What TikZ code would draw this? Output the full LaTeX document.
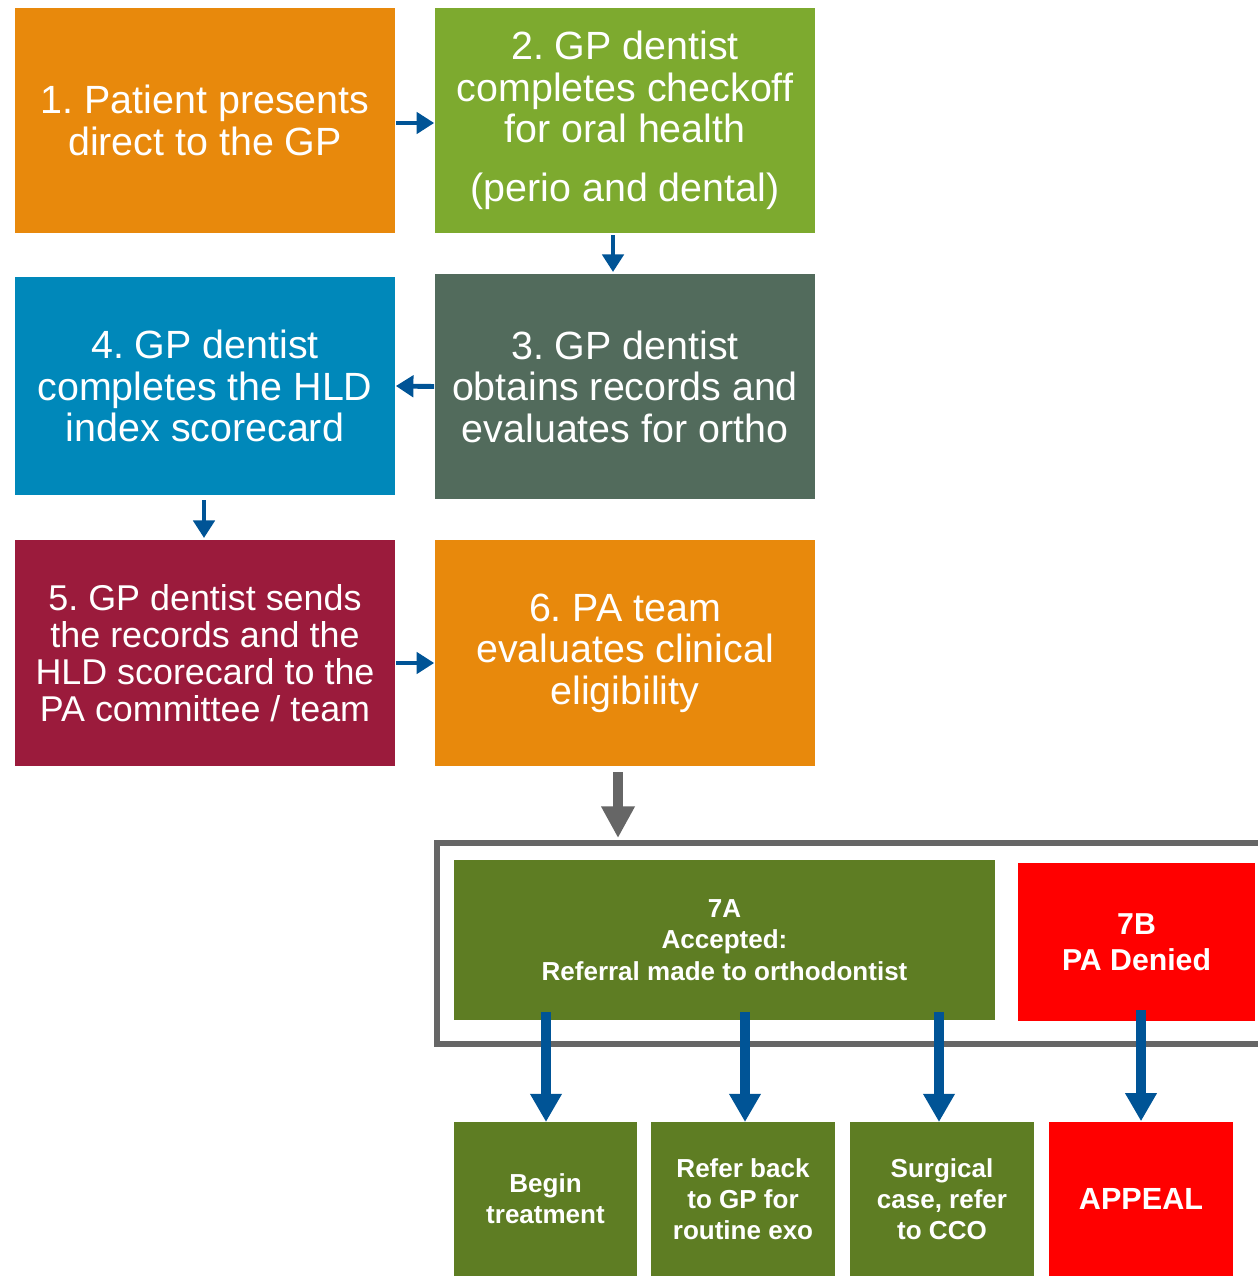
\documentclass[tikz,border=0pt]{standalone}
\usepackage{fontspec}
\setmainfont{Liberation Sans}
\usetikzlibrary{arrows.meta}
\definecolor{boxorange}{RGB}{232,137,12}
\definecolor{boxlime}{RGB}{125,170,47}
\definecolor{boxslate}{RGB}{82,107,92}
\definecolor{boxblue}{RGB}{0,136,186}
\definecolor{boxwine}{RGB}{155,27,60}
\definecolor{boxolive}{RGB}{94,125,35}
\definecolor{boxred}{RGB}{255,0,0}
\definecolor{arrblue}{RGB}{0,84,150}
\definecolor{framegray}{RGB}{102,102,102}
\frenchspacing

\begin{document}
\begin{tikzpicture}[x=0.01cm,y=-0.01cm,
  stepbox/.style={inner sep=2pt,align=center,text=white,
    minimum width=3.8cm,minimum height=2.25cm,
    font=\fontsize{11.2}{11.8}\selectfont},
  outbox/.style={inner sep=2pt,align=center,text=white,
    minimum width=1.83cm,minimum height=1.54cm,
    font=\bfseries\fontsize{7.4}{8.9}\selectfont},
  small/.style={-{Triangle[length=5pt,width=6pt]},arrblue,line width=1.4pt},
  big/.style={-{Triangle[length=8pt,width=8.5pt]},arrblue,line width=2.8pt}]
  \useasboundingbox (0,0) rectangle (1258,1276);
  % first rows
  \node[stepbox,fill=boxorange] (s1) at (205,120.5) {1. Patient presents\\direct to the GP};
  \node[stepbox,fill=boxlime] (s2) at (625,120.5)
    {2. GP dentist\\completes checkoff\\for oral health\\[5pt](perio and dental)};
  \node[stepbox,fill=boxslate] (s3) at (625,386.5)
    {3. GP dentist\\obtains records and\\evaluates for ortho};
  \node[stepbox,fill=boxblue,minimum height=2.18cm] (s4) at (205,386)
    {4. GP dentist\\completes the HLD\\index scorecard};
  \node[stepbox,fill=boxwine,minimum height=2.26cm,font=\fontsize{10.2}{10.5}\selectfont] (s5) at (205,653)
    {5. GP dentist sends\\the records and the\\HLD scorecard to the\\PA committee / team};
  \node[stepbox,fill=boxorange,minimum height=2.26cm] (s6) at (625,653)
    {6. PA team\\evaluates clinical\\eligibility};
  \draw[small] (s1.east |- 0,123) -- (s2.west |- 0,123);
  \draw[small] (613,235) -- (613,272);
  \draw[small] (s3.west) -- (s4.east);
  \draw[small] (204,500) -- (204,538);
  \draw[small] (s5.east |- 0,663) -- (s6.west |- 0,663);
  % decision frame
  \draw[framegray,line width=1.7pt] (1265,843) -- (437,843) -- (437,1044) -- (1265,1044);
  \coordinate (top) at (618,838);
  \draw[-{Triangle[length=9pt,width=9pt]},framegray,line width=2.8pt] (618,772) -- (top);
  \node[outbox,fill=boxolive,minimum width=5.41cm,minimum height=1.6cm] (a7) at (724.5,940)
    {7A\\Accepted:\\Referral made to orthodontist};
  \node[outbox,fill=boxred,minimum width=2.37cm,minimum height=1.58cm,
    font=\bfseries\fontsize{8.6}{10.2}\selectfont] (b7) at (1136.5,942) {7B\\PA Denied};
  % outcomes
  \node[outbox,fill=boxolive] (o1) at (545.5,1199) {Begin\\treatment};
  \node[outbox,fill=boxolive] (o2) at (743,1199) {Refer back\\to GP for\\routine exo};
  \node[outbox,fill=boxolive] (o3) at (942,1199) {Surgical\\case, refer\\to CCO};
  \node[outbox,fill=boxred,font=\bfseries\fontsize{8.7}{10}\selectfont] (o4) at (1141,1199) {APPEAL};
  \draw[big] (546,1012) -- (546,1122);
  \draw[big] (745,1012) -- (745,1122);
  \draw[big] (939,1012) -- (939,1122);
  \draw[big] (1141,1010) -- (o4.north);
\end{tikzpicture}
\end{document}
